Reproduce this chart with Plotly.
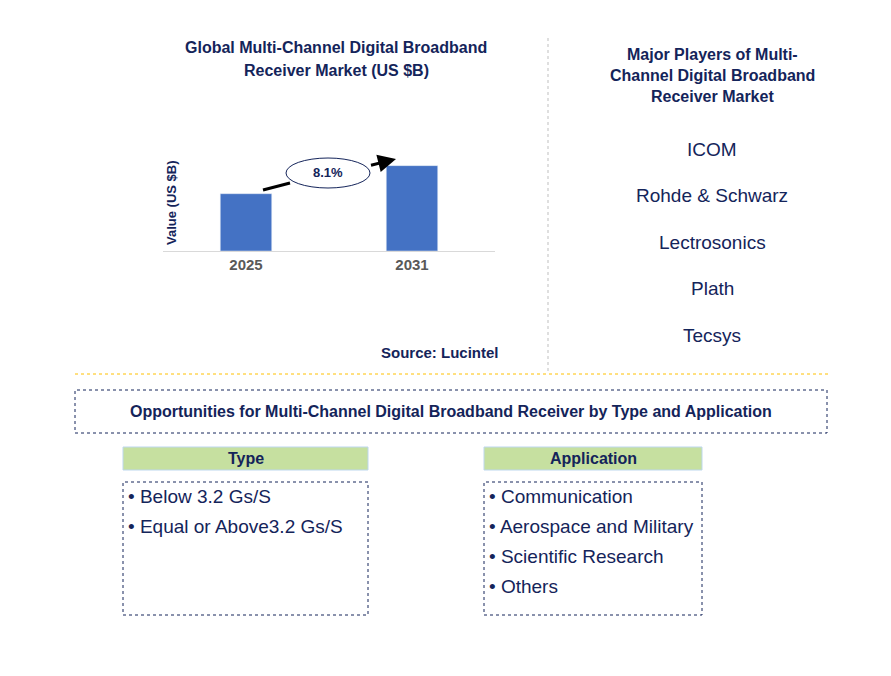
import plotly.graph_objects as go

W, H = 891, 676
years = ["2025", "2031"]
values = [1.0, 1.49]
cagr = "8.1%"
players = ["ICOM", "Rohde & Schwarz", "Lectrosonics", "Plath", "Tecsys"]
types = ["Below 3.2 Gs/S", "Equal or Above3.2 Gs/S"]
applications = ["Communication", "Aerospace and Military", "Scientific Research", "Others"]

NAVY = "#14245a"
OFF = 8  # page offset of the figure


def px(x):
    return (x - OFF) / W


def py(y):
    return 1 - (y - OFF) / H


fig = go.Figure(go.Bar(x=years, y=values, marker_color="#4472c4", width=0.31))

fig.update_layout(
    width=W, height=H, margin=dict(l=0, r=0, t=0, b=0),
    plot_bgcolor="white", paper_bgcolor="white", showlegend=False,
    font=dict(family="Arial", color=NAVY),
    xaxis=dict(domain=[px(163), px(495)], showline=True, linecolor="#d9d9d9",
               tickfont=dict(size=15, color="#595959", family="Arial", weight="bold"), ticks=""),
    yaxis=dict(domain=[py(251), py(145)], range=[0, 1.85], showticklabels=False,
               showgrid=False, zeroline=False),
)

ann = []
shapes = []


def text(x, y, s, size, bold=False, color=NAVY, anchor="center"):
    ann.append(dict(x=px(x), y=py(y), xref="paper", yref="paper", showarrow=False,
                    text=f"<b>{s}</b>" if bold else s, xanchor=anchor, yanchor="middle",
                    font=dict(size=size, color=color, family="Arial")))


def rect(x0, y0, x1, y1, dash="dot", color=NAVY, fill=None, width=1):
    shapes.append(dict(type="rect", xref="paper", yref="paper", x0=px(x0), x1=px(x1),
                       y0=py(y1), y1=py(y0), line=dict(color=color, width=width, dash=dash),
                       fillcolor=fill))


text(336, 48, "Global Multi-Channel Digital Broadband", 16, True)
text(336, 71, "Receiver Market (US $B)", 16, True)
ann.append(dict(x=px(172), y=py(203), xref="paper", yref="paper", showarrow=False,
                xanchor="center", yanchor="middle",
                text="<b>Value (US $B)</b>", textangle=-90,
                font=dict(size=13, color=NAVY, family="Arial")))
text(440, 352, "Source: Lucintel", 15, True)

# growth arrow split around the ellipse
shapes.append(dict(type="line", xref="paper", yref="paper", x0=px(263), y0=py(190),
                   x1=px(290), y1=py(183), line=dict(color="black", width=3)))
ann.append(dict(x=px(396), y=py(159), xref="paper", yref="paper", ax=368 - 396, ay=166 - 159,
                showarrow=True, arrowhead=2, arrowsize=1.2, arrowwidth=3, arrowcolor="black"))
shapes.append(dict(type="circle", xref="paper", yref="paper", x0=px(286), x1=px(370),
                   y0=py(188), y1=py(158), line=dict(color=NAVY, width=1), fillcolor="white"))
text(328, 173, cagr, 13, True)

text(712, 54, "Major Players of Multi-", 16, True)
text(712, 75, "Channel Digital Broadband", 16, True)
text(712, 96, "Receiver Market", 16, True)
for i, p in enumerate(players):
    text(712, 149 + i * 46.5, p, 19)

shapes.append(dict(type="line", xref="paper", yref="paper", x0=px(548), x1=px(548),
                   y0=py(38), y1=py(372), line=dict(color="#bfbfbf", width=1, dash="dot")))
shapes.append(dict(type="line", xref="paper", yref="paper", x0=px(75), x1=px(828),
                   y0=py(374), y1=py(374), line=dict(color="#ffc000", width=1, dash="dot")))

rect(75, 390, 827, 433)
text(451, 411, "Opportunities for Multi-Channel Digital Broadband Receiver by Type and Application", 16, True)

rect(123, 447, 368, 470, dash="solid", color="#bdd7ee", fill="#c6e0a0")
text(246, 458, "Type", 16, True)
rect(123, 482, 368, 615)
for i, t in enumerate(types):
    text(126, 496 + i * 30, "• " + t, 19, anchor="left")

rect(484, 447, 702, 470, dash="solid", color="#bdd7ee", fill="#c6e0a0")
text(593, 458, "Application", 16, True)
rect(484, 482, 702, 615)
for i, a in enumerate(applications):
    text(487, 496 + i * 30, "• " + a, 19, anchor="left")

fig.update_layout(annotations=ann, shapes=shapes)
fig.write_html("out.html")
